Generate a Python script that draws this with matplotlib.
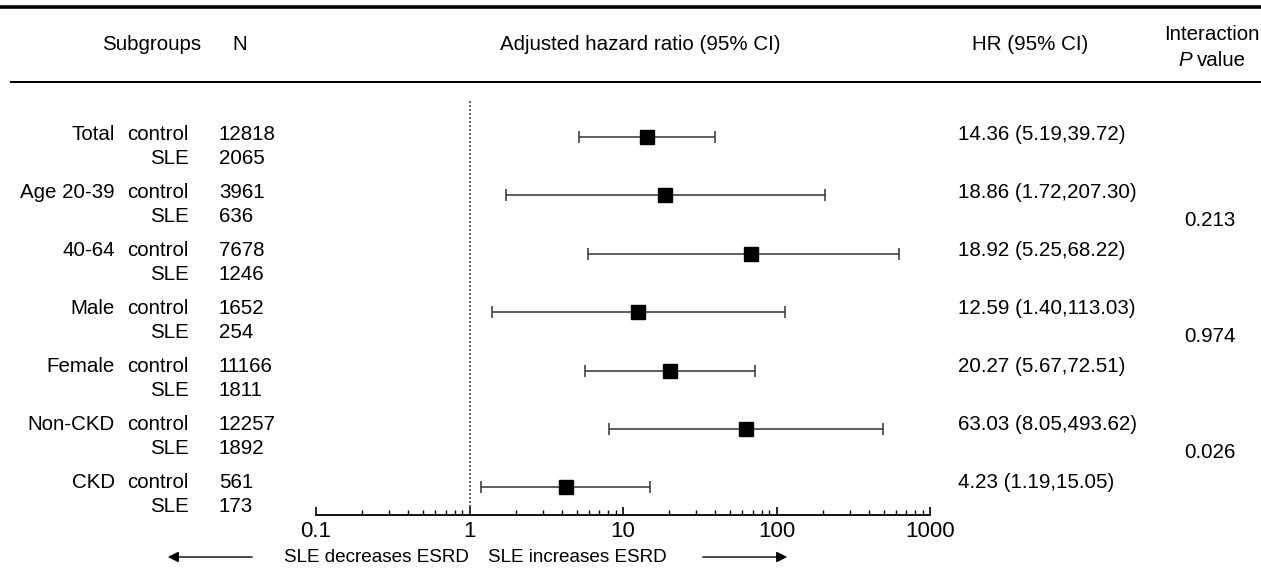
import matplotlib
matplotlib.use('Agg')
import matplotlib.pyplot as plt
from matplotlib.ticker import FixedLocator, FixedFormatter, LogLocator, NullFormatter

plt.rcParams['font.family'] = ['Liberation Sans', 'DejaVu Sans']

# subgroup table
subgroups = ['Total', 'Age 20-39', '40-64', 'Male', 'Female', 'Non-CKD', 'CKD']
n_control = [12818, 3961, 7678, 1652, 11166, 12257, 561]
n_sle = [2065, 636, 1246, 254, 1811, 1892, 173]
hr_text = ['14.36 (5.19,39.72)', '18.86 (1.72,207.30)', '18.92 (5.25,68.22)',
           '12.59 (1.40,113.03)', '20.27 (5.67,72.51)', '63.03 (8.05,493.62)',
           '4.23 (1.19,15.05)']
p_values = ['0.213', '0.974', '0.026']

# values as drawn in the plot
hr_point = [14.36, 18.86, 68.5, 12.59, 20.27, 63.03, 4.23]
ci_low = [5.19, 1.72, 5.9, 1.40, 5.67, 8.05, 1.19]
ci_high = [39.72, 207.30, 630.0, 113.03, 72.51, 493.62, 15.05]

ticks = [0.1, 1, 10, 100, 1000]
tick_labels = ['0.1', '1', '10', '100', '1000']

W, H = 1261, 587
fs = 14.8
fig = plt.figure(figsize=(W / 100, H / 100), dpi=100)

# background axes in pixel coordinates for the table text
bg = fig.add_axes([0, 0, 1, 1])
bg.set_xlim(0, W)
bg.set_ylim(H, 0)
bg.axis('off')

bg.plot([0, W], [7, 7], color='black', lw=2.6, solid_capstyle='butt')
bg.plot([10, W], [82, 82], color='black', lw=1.4, solid_capstyle='butt')

hy = 45
bg.text(152, hy, 'Subgroups', ha='center', va='center', fontsize=fs)
bg.text(240, hy, 'N', ha='center', va='center', fontsize=fs)
bg.text(640, hy, 'Adjusted hazard ratio (95% CI)', ha='center', va='center', fontsize=fs)
bg.text(1030, hy, 'HR (95% CI)', ha='center', va='center', fontsize=fs)
bg.text(1212, 35, 'Interaction', ha='center', va='center', fontsize=fs)
bg.text(1178, 61, 'P', ha='left', va='center', fontsize=fs, style='italic')
bg.text(1197, 61, 'value', ha='left', va='center', fontsize=fs)

row_y = [134 + 58 * i for i in range(len(subgroups))]
for i, name in enumerate(subgroups):
    y = row_y[i]
    bg.text(115, y, name, ha='right', va='center', fontsize=fs)
    bg.text(189, y, 'control', ha='right', va='center', fontsize=fs)
    bg.text(189, y + 24.5, 'SLE', ha='right', va='center', fontsize=fs)
    bg.text(219, y, str(n_control[i]), ha='left', va='center', fontsize=fs)
    bg.text(219, y + 24.5, str(n_sle[i]), ha='left', va='center', fontsize=fs)
    bg.text(958, y, hr_text[i], ha='left', va='center', fontsize=fs)

# interaction p values sit between the paired groups
for k, p in enumerate(p_values):
    y = (row_y[1 + 2 * k] + row_y[2 + 2 * k]) / 2
    bg.text(1210, y, p, ha='center', va='center', fontsize=fs)

# direction arrows
bg.text(376, 557, 'SLE decreases ESRD', ha='center', va='center', fontsize=13.6)
bg.text(577, 557, 'SLE increases ESRD', ha='center', va='center', fontsize=13.6)
bg.annotate('', xy=(165, 557), xytext=(255, 557),
            arrowprops=dict(arrowstyle='-|>', color='black', lw=1, mutation_scale=16))
bg.annotate('', xy=(790, 557), xytext=(700, 557),
            arrowprops=dict(arrowstyle='-|>', color='black', lw=1, mutation_scale=16))

# forest plot on a log axis
x0, x1, ytop, ybot = 316, 930, 100, 515
ax = fig.add_axes([x0 / W, (H - ybot) / H, (x1 - x0) / W, (ybot - ytop) / H])
ax.patch.set_alpha(0)
ax.set_xscale('log')
ax.set_xlim(0.1, 1000)
ax.set_ylim(ybot, ytop)
for s in ['left', 'top', 'right']:
    ax.spines[s].set_visible(False)
ax.spines['bottom'].set_linewidth(1.3)
ax.set_yticks([])
ax.xaxis.set_major_locator(FixedLocator(ticks))
ax.xaxis.set_major_formatter(FixedFormatter(tick_labels))
ax.xaxis.set_minor_locator(LogLocator(base=10, subs=range(2, 10)))
ax.xaxis.set_minor_formatter(NullFormatter())
ax.tick_params(axis='x', which='major', direction='in', length=6, width=1.2,
               labelsize=16, pad=4)
ax.tick_params(axis='x', which='minor', direction='in', length=3.5, width=1)

ax.axvline(1, color='#444444', lw=1.2, ls=(0, (1.2, 1.2)))

for i in range(len(hr_point)):
    y = 137 + 58.4 * i
    ax.errorbar(hr_point[i], y,
                xerr=[[hr_point[i] - ci_low[i]], [ci_high[i] - hr_point[i]]],
                fmt='s', color='black', ecolor='#333333', elinewidth=1.1,
                capsize=4, capthick=1.1, markersize=9.5)

fig.savefig('out.png', dpi=100)
